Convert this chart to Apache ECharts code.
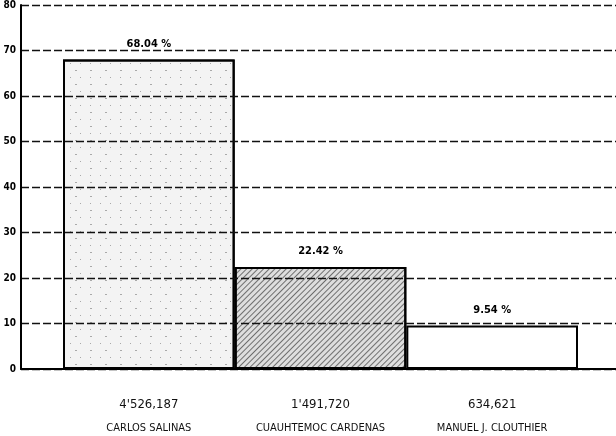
<!DOCTYPE html>
<html>
<head>
<meta charset="utf-8">
<script src="https://cdn.jsdelivr.net/npm/echarts@6/dist/echarts.min.js"></script>
<style>
html,body{margin:0;padding:0;background:#fff;}
#c{width:616px;height:436px;}
</style>
</head>
<body>
<div id="c"></div>
<script>
const candidates = ['CARLOS SALINAS', 'CUAUHTEMOC CARDENAS', 'MANUEL J. CLOUTHIER'];
const percents = [68.04, 22.42, 9.54];
const votes = ["4'526,187", "1'491,720", "634,621"];
const yMin = 0, yMax = 80, yStep = 10;

const FONT = '"DejaVu Sans Condensed", "Liberation Sans Narrow", "Arial Narrow", sans-serif';
const chart = echarts.init(document.getElementById('c'), null, {renderer: 'canvas'});

const fills = [
  {color: '#f3f3f3', decal: {symbol: 'rect', symbolSize: 1, color: 'rgba(0,0,0,0.3)', dashArrayX: [[1, 9], [2, 13]], dashArrayY: [1, 6], rotation: 0}},
  {color: '#dedede', decal: {symbol: 'rect', symbolSize: 1, color: 'rgba(0,0,0,0.5)', dashArrayX: [1, 0], dashArrayY: [1, 3], rotation: -Math.PI / 4}},
  {color: '#ffffff', decal: null}
];

chart.setOption({
  animation: false,
  backgroundColor: '#ffffff',
  grid: [
    {left: 21, right: 0, top: 5, bottom: 67},
    {left: 63, right: 38, top: 5, bottom: 67}
  ],
  xAxis: [
    {gridIndex: 0, type: 'category', data: [''], z: 4, axisLine: {show: true, lineStyle: {color: '#000', width: 2}},
     axisTick: {show: false}, axisLabel: {show: false}},
    {gridIndex: 1, type: 'category', data: candidates, boundaryGap: true,
     axisLine: {show: false}, axisTick: {show: false},
     axisLabel: {
       margin: 24, interval: 0,
       formatter: (v, i) => '{v|' + votes[i] + '}\n{n|' + v + '}',
       rich: {
         v: {fontFamily: FONT, fontSize: 13, color: '#111', lineHeight: 24},
         n: {fontFamily: FONT, fontSize: 11, color: '#111', lineHeight: 22}
       }
     }}
  ],
  yAxis: [
    {gridIndex: 0, type: 'value', min: yMin, max: yMax, interval: yStep, z: 4,
     axisLine: {show: true, lineStyle: {color: '#000', width: 2}},
     axisTick: {show: false},
     axisLabel: {margin: 5, fontFamily: FONT, fontWeight: 'bold', fontSize: 10, color: '#000'},
     splitLine: {show: true, lineStyle: {color: '#111', width: 1.3, type: [8, 3]}}},
    {gridIndex: 1, type: 'value', min: yMin, max: yMax, interval: yStep, show: false,
     splitLine: {show: false}}
  ],
  series: [{
    type: 'bar',
    xAxisIndex: 1, yAxisIndex: 1,
    barCategoryGap: '0%',
    data: percents.map((p, i) => ({
      value: p,
      itemStyle: {color: fills[i].color, decal: fills[i].decal, borderColor: '#000', borderWidth: 2}
    })),
    label: {
      show: true, position: 'top', distance: 10,
      formatter: p => p.value.toFixed(2) + ' %',
      fontFamily: FONT, fontWeight: 'bold', fontSize: 11, color: '#000'
    }
  }]
});
</script>
</body>
</html>
